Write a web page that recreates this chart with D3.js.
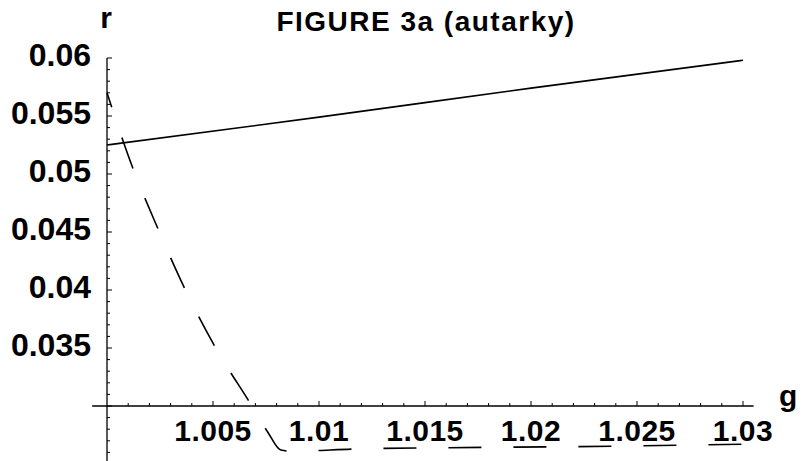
<!DOCTYPE html>
<html>
<head>
    <script src="https://d3js.org/d3.v7.min.js"></script>
    <title>Figure 3a (autarky)</title>
    <style>
        body { margin: 0; background: #fff; }
        text { font-family: "Liberation Sans", Arial, sans-serif; font-weight: bold; fill: #000; }
    </style>
</head>
<body>
    <svg id="plot" width="802" height="461"></svg>
    <script>
        // solid line
        const solidG = [1.0, 1.01, 1.02, 1.03];
        const solidR = [0.0525, 0.0549, 0.0574, 0.0598];

        // dashed line
        const dashG = [1.0, 1.0012, 1.0024, 1.0037, 1.0051, 1.0068, 1.0076, 1.0082, 1.0087, 1.0118, 1.0159, 1.0222, 1.03];
        const dashR = [0.0570, 0.0506, 0.0453, 0.0400, 0.0351, 0.0301, 0.0277, 0.0262, 0.0261, 0.0263, 0.0264, 0.0265, 0.0267];

        const xTicks = [1.005, 1.01, 1.015, 1.02, 1.025, 1.03];
        const xTickLabels = ["1.005", "1.01", "1.015", "1.02", "1.025", "1.03"];
        const yTicks = [0.035, 0.04, 0.045, 0.05, 0.055, 0.06];
        const yTickLabels = ["0.035", "0.04", "0.045", "0.05", "0.055", "0.06"];

        const svg = d3.select('svg#plot');

        const x = d3.scaleLinear().domain([1.0, 1.03]).range([107, 743]);
        const y = d3.scaleLinear().domain([0.03, 0.06]).range([406, 58]);

        // minor ticks every 0.001
        const xMinor = d3.range(1, 31).map(i => 1 + i * 0.001);
        const yMinor = d3.range(-4, 31).map(i => 0.03 + i * 0.001);

        // horizontal axis
        svg.append("line")
            .attr("x1", x(0.9993)).attr("x2", x(1.0305))
            .attr("y1", y(0.03)).attr("y2", y(0.03))
            .style("stroke", "#000").style("stroke-width", 1.3);

        // vertical axis
        svg.append("line")
            .attr("x1", x(1.0)).attr("x2", x(1.0))
            .attr("y1", y(0.06)).attr("y2", 461)
            .style("stroke", "#000").style("stroke-width", 1.3);

        // tickmarks
        svg.append("g").selectAll("line")
            .data(xMinor)
            .join("line")
            .attr("x1", d => x(d)).attr("x2", d => x(d))
            .attr("y1", y(0.03))
            .attr("y2", (d, i) => y(0.03) - ((i + 1) % 5 === 0 ? 5 : 3))
            .style("stroke", "#000").style("stroke-width", 1);

        svg.append("g").selectAll("line")
            .data(yMinor)
            .join("line")
            .attr("x1", x(1.0))
            .attr("x2", (d, i) => x(1.0) + ((i - 4) % 5 === 0 ? 5 : 3))
            .attr("y1", d => y(d)).attr("y2", d => y(d))
            .style("stroke", "#000").style("stroke-width", 1);

        // tick labels
        xTicks.forEach((d, i) => {
            svg.append("text")
                .attr("text-anchor", "middle")
                .attr("font-size", "30px")
                .attr("letter-spacing", "0.5px")
                .attr("x", x(d))
                .attr("y", 441)
                .text(xTickLabels[i]);
        });

        yTicks.forEach((d, i) => {
            svg.append("text")
                .attr("text-anchor", "end")
                .attr("font-size", "32px")
                .attr("x", 91)
                .attr("y", y(d) + 8)
                .text(yTickLabels[i]);
        });

        // axis labels and title
        svg.append("text")
            .attr("text-anchor", "middle")
            .attr("font-size", "30px")
            .attr("x", 106).attr("y", 28)
            .text("r");

        svg.append("text")
            .attr("text-anchor", "start")
            .attr("font-size", "30px")
            .attr("x", 779).attr("y", 406)
            .text("g");

        svg.append("text")
            .attr("text-anchor", "middle")
            .attr("font-size", "28px")
            .attr("letter-spacing", "1.5px")
            .attr("x", 426).attr("y", 31)
            .text("FIGURE 3a (autarky)");

        // lines
        const line = d3.line()
            .x(d => x(d[0]))
            .y(d => y(d[1]))
            .curve(d3.curveMonotoneX);

        svg.append("path")
            .datum(d3.zip(solidG, solidR))
            .attr("d", line)
            .style("fill", "none")
            .style("stroke", "#000")
            .style("stroke-width", 1.6);

        svg.append("path")
            .datum(d3.zip(dashG, dashR))
            .attr("d", line)
            .style("fill", "none")
            .style("stroke", "#000")
            .style("stroke-width", 1.6)
            .style("stroke-dasharray", "33,32")
            .style("stroke-dashoffset", 18);
    </script>
</body>
</html>
